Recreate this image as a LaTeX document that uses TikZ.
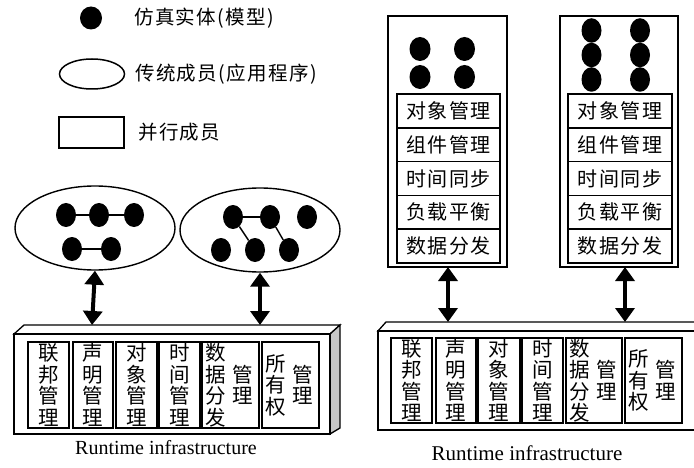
\documentclass[tikz,border=0pt]{standalone}
\usepackage{fontspec}
\setmainfont{Liberation Serif}
\newfontfamily\cjk{Noto Sans CJK SC}
\newfontfamily\cjksp[LetterSpace=7]{Noto Sans CJK SC}
\usetikzlibrary{shapes.geometric,arrows.meta}
\begin{document}
\begin{tikzpicture}[x=1pt,y=-1pt,
  dot/.style={ellipse,fill=black,minimum width=20pt,minimum height=24pt,inner sep=0pt},
  link/.style={line width=1.4pt},
  grp/.style={ellipse,draw,line width=1.4pt,minimum width=160pt,minimum height=84pt,inner sep=0pt},
  frame/.style={draw,line width=1.3pt,inner sep=0pt},
  cell/.style={draw,line width=1.8pt,inner sep=0pt,align=center,font=\cjk\fontsize{20.5}{21.5}\selectfont},
  rowbox/.style={draw,line width=1.6pt,minimum width=103pt,minimum height=33.8pt,inner sep=0pt,font=\cjksp\fontsize{20}{21.5}\selectfont},
  vtext/.style={align=center,inner sep=0pt,font=\cjk\fontsize{20.5}{21.5}\selectfont},
  legtext/.style={anchor=west,inner sep=0pt,font=\cjksp\fontsize{19.5}{21}\selectfont},
  rtitext/.style={inner sep=0pt,font=\fontsize{20}{22}\selectfont},
  dblarrow/.style={line width=4pt,{Triangle[width=19pt,length=14pt]}-{Triangle[width=19pt,length=14pt]}},
]
\useasboundingbox (0,0) rectangle (694,468);

% ---------- legend ----------
\node[dot,minimum width=22pt,minimum height=23pt] (ldot) at (91,18) {};
\node[legtext] (ltxt1) at (134,18) {仿真实体(模型)};
\node[ellipse,draw,line width=1.5pt,minimum width=65pt,minimum height=30pt,inner sep=0pt] (lell) at (92,74) {};
\node[legtext] (ltxt2) at (135,74) {传统成员(应用程序)};
\node[draw,line width=2pt,minimum width=65pt,minimum height=31pt,inner sep=0pt] (lrect) at (91.5,132.5) {};
\node[legtext] (ltxt3) at (138,132) {并行成员};

% ---------- left: traditional members ----------
\node[grp] (e1) at (95,228) {};
\node[dot] (a1) at (66,215) {};
\node[dot] (a2) at (99,215) {};
\node[dot] (a3) at (134,215) {};
\node[dot] (a4) at (72,249) {};
\node[dot] (a5) at (111,249) {};
\draw[link] (a1) -- (a2);
\draw[link] (a2) -- (a3);
\draw[link] (a4) -- (a5);

\node[grp] (e2) at (260,230) {};
\node[dot] (b1) at (233,217) {};
\node[dot] (b2) at (270,217) {};
\node[dot] (b3) at (307,217) {};
\node[dot] (b4) at (221,250) {};
\node[dot] (b5) at (255,250) {};
\node[dot] (b6) at (289,250) {};
\draw[link] (b1) -- (b2);
\draw[link] (b1) -- (b5);
\draw[link] (b2) -- (b6);

% ---------- left RTI ----------
\fill[white,draw=black,line width=1.3pt] (14,334) -- (24,325) -- (340,325) -- (330,334) -- cycle;
\fill[gray!45,draw=black,line width=1.3pt] (330,334) -- (340,325) -- (340,428) -- (330,434) -- cycle;
\node[frame,fill=white,minimum width=316pt,minimum height=100pt] (rti1) at (172,384) {};
\coordinate (rti1a) at (92,325);
\coordinate (rti1b) at (260,325);

\node[cell,minimum width=41pt,minimum height=86pt] (L1) at (48.5,385) {联\\邦\\管\\理};
\node[cell,minimum width=40pt,minimum height=86pt] (L2) at (93,385) {声\\明\\管\\理};
\node[cell,minimum width=41pt,minimum height=86pt] (L3) at (136.5,385) {对\\象\\管\\理};
\node[cell,minimum width=41pt,minimum height=86pt] (L4) at (179.5,385) {时\\间\\管\\理};
\node[cell,minimum width=57pt,minimum height=86pt] (L5) at (230.5,385) {};
\node[cell,minimum width=57pt,minimum height=86pt] (L6) at (290.5,385) {};
\node[vtext] (L5a) at ([xshift=15pt]L5.west) {数\\据\\分\\发};
\node[vtext] (L5b) at ([xshift=42pt]L5.west) {管\\理};
\node[vtext] (L6a) at ([xshift=15pt]L6.west) {所\\有\\权};
\node[vtext] (L6b) at ([xshift=42pt]L6.west) {管\\理};
\node[rtitext] (rtit1) at (166,448) {Runtime infrastructure};

\draw[dblarrow] (e1.south) -- (rti1a);
\draw[dblarrow] (e2.south) -- (rti1b);

% ---------- right: parallel members ----------
\node[frame,minimum width=119pt,minimum height=251pt] (pA) at (447.5,141.5) {};
\node[dot,minimum width=21pt] (c1) at (420,49) {};
\node[dot,minimum width=21pt] (c2) at (464.5,49) {};
\node[dot,minimum width=21pt] (c3) at (420,77) {};
\node[dot,minimum width=21pt] (c4) at (464.5,77) {};
\node[rowbox] (A1) at (448.5,110.9) {对象管理};
\node[rowbox] (A2) at (448.5,144.7) {组件管理};
\node[rowbox] (A3) at (448.5,178.5) {时间同步};
\node[rowbox] (A4) at (448.5,212.3) {负载平衡};
\node[rowbox] (A5) at (448.5,246.1) {数据分发};

\node[frame,minimum width=118pt,minimum height=251pt] (pB) at (619,141.5) {};
\node[dot,minimum height=24.5pt] (d1) at (591.5,30.5) {};
\node[dot,minimum height=24.5pt] (d2) at (640,30.5) {};
\node[dot,minimum height=24.5pt] (d3) at (591.5,55) {};
\node[dot,minimum height=24.5pt] (d4) at (640,55) {};
\node[dot,minimum height=24.5pt] (d5) at (591.5,79.5) {};
\node[dot,minimum height=24.5pt] (d6) at (640,79.5) {};
\node[rowbox,minimum width=104pt] (B1) at (620,110.9) {对象管理};
\node[rowbox,minimum width=104pt] (B2) at (620,144.7) {组件管理};
\node[rowbox,minimum width=104pt] (B3) at (620,178.5) {时间同步};
\node[rowbox,minimum width=104pt] (B4) at (620,212.3) {负载平衡};
\node[rowbox,minimum width=104pt] (B5) at (620,246.1) {数据分发};

% ---------- right RTI ----------
\fill[white,draw=black,line width=1.3pt] (378,331) -- (386,322) -- (708,322) -- (700,331) -- cycle;
\node[frame,fill=white,minimum width=322pt,minimum height=99pt] (rti2) at (539,380.5) {};
\coordinate (rti2a) at (448,322);
\coordinate (rti2b) at (625,322);
\coordinate (pAb) at (448,267);
\coordinate (pBb) at (625,267);

\node[cell,minimum width=41pt,minimum height=85pt] (R1) at (411.5,380.5) {联\\邦\\管\\理};
\node[cell,minimum width=40pt,minimum height=85pt] (R2) at (456,380.5) {声\\明\\管\\理};
\node[cell,minimum width=42pt,minimum height=85pt] (R3) at (499,380.5) {对\\象\\管\\理};
\node[cell,minimum width=41pt,minimum height=85pt] (R4) at (542.5,380.5) {时\\间\\管\\理};
\node[cell,minimum width=56pt,minimum height=85pt] (R5) at (594,380.5) {};
\node[cell,minimum width=57pt,minimum height=85pt] (R6) at (653.5,380.5) {};
\node[vtext] (R5a) at ([xshift=14.5pt]R5.west) {数\\据\\分\\发};
\node[vtext] (R5b) at ([xshift=41.5pt]R5.west) {管\\理};
\node[vtext] (R6a) at ([xshift=14.5pt]R6.west) {所\\有\\权};
\node[vtext] (R6b) at ([xshift=42pt]R6.west) {管\\理};
\node[rtitext,font=\fontsize{21}{23}\selectfont] (rtit2) at (527,453) {Runtime infrastructure};

\draw[dblarrow] (pAb) -- (rti2a);
\draw[dblarrow] (pBb) -- (rti2b);
\end{tikzpicture}
\end{document}
